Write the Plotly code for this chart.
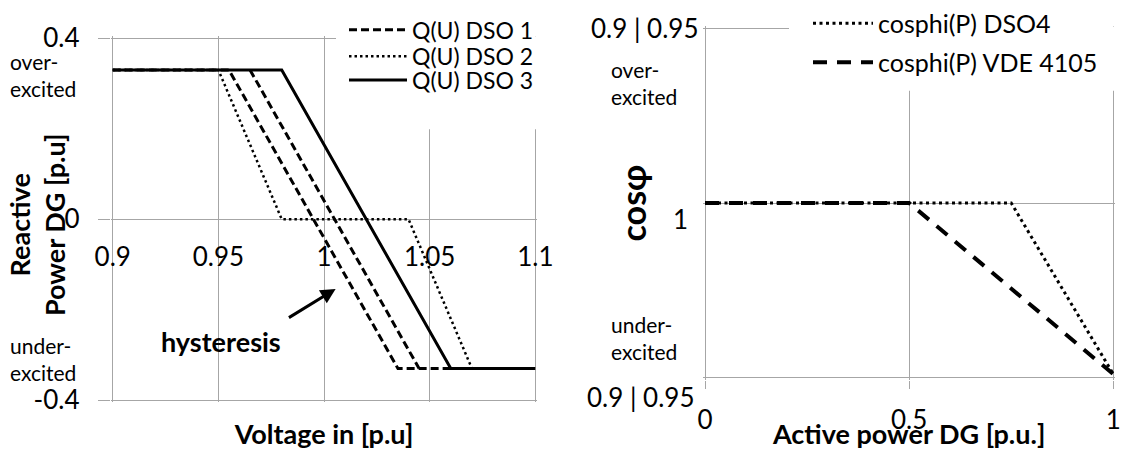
import plotly.graph_objects as go

# ---------------- data ----------------
# Left panel: Q(U) characteristics (voltage in p.u. -> reactive power in p.u.)
u_dso1 = [0.90, 0.955, 1.035, 1.10, None, 0.965, 1.045]
q_dso1 = [0.33, 0.33, -0.33, -0.33, None, 0.33, -0.33]
u_dso2 = [0.90, 0.95, 0.98, 1.04, 1.07, 1.10]
q_dso2 = [0.33, 0.33, 0.0, 0.0, -0.33, -0.33]
u_dso3 = [0.90, 0.98, 1.06, 1.10]
q_dso3 = [0.33, 0.33, -0.33, -0.33]

# Right panel: cosphi(P) characteristics (0 = cosphi 1, +/-1 = 0.9|0.95 over/under-excited)
p_dso4 = [0.0, 0.75, 1.0]
c_dso4 = [0.0, 0.0, -0.98]
p_vde = [0.0, 0.5, 1.0]
c_vde = [0.0, 0.0, -0.98]

left_x_ticks = [0.9, 0.95, 1.0, 1.05, 1.1]
left_x_labels = ["0.9", "0.95", "1", "1.05", "1.1"]
left_y_ticks = [-0.4, 0.0, 0.4]
left_y_labels = ["-0.4", "0", "0.4"]
right_x_ticks = [0.0, 0.5, 1.0]
right_x_labels = ["0", "0.5", "1"]
right_y_ticks = [-1.0, 0.0, 1.0]
right_y_labels = ["0.9 | 0.95", "1", "0.9 | 0.95"]

# ---------------- layout helpers ----------------
W, H = 1121, 450
FONT = "Lato"
GRID = "#a6a6a6"


def fx(p):
    return p / W


def fy(p):
    return 1 - p / H


def span(v0, v1, p0, p1, pad=2.0, vertical=False):
    """domain (paper) and range such that v0 sits at pixel p0 and v1 at p1,
    with a small pad so edge gridlines are still drawn."""
    per_px = (v1 - v0) / abs(p1 - p0)
    rng = [v0 - pad * per_px, v1 + pad * per_px]
    if vertical:  # p0 is bottom pixel, p1 top pixel
        dom = [fy(p0 + pad), fy(p1 - pad)]
    else:
        dom = [fx(p0 - pad), fx(p1 + pad)]
    return dom, rng


L_X0, L_X1, L_Y0, L_Y1 = 112.7, 535.3, 32.7, 399.5
R_X0, R_X1, R_Y0, R_Y1 = 705.0, 1113.3, 22.7, 376.7
zero_pix = (L_Y0 + L_Y1) / 2

lx_dom, lx_rng = span(left_x_ticks[0], left_x_ticks[-1], L_X0, L_X1)
ly_dom, ly_rng = span(left_y_ticks[0], left_y_ticks[-1], L_Y1, L_Y0, vertical=True)
rx_dom, rx_rng = span(right_x_ticks[0], right_x_ticks[-1], R_X0, R_X1)
ry_dom, ry_rng = span(right_y_ticks[0], right_y_ticks[-1], R_Y1, R_Y0, vertical=True)

fig = go.Figure()

fig.add_trace(go.Scatter(x=u_dso1, y=q_dso1, mode="lines", name="Q(U) DSO 1",
                         line=dict(color="black", width=3, dash="8px,4px"),
                         xaxis="x", yaxis="y", legend="legend", showlegend=True))
fig.add_trace(go.Scatter(x=u_dso2, y=q_dso2, mode="lines", name="Q(U) DSO 2",
                         line=dict(color="black", width=2.5, dash="2.5px,3px"),
                         xaxis="x", yaxis="y", legend="legend2", showlegend=True))
fig.add_trace(go.Scatter(x=u_dso3, y=q_dso3, mode="lines", name="Q(U) DSO 3",
                         line=dict(color="black", width=3),
                         xaxis="x", yaxis="y", legend="legend3", showlegend=True))
fig.add_trace(go.Scatter(x=p_dso4, y=c_dso4, mode="lines", name="cosphi(P) DSO4",
                         line=dict(color="black", width=3, dash="3px,3.5px"),
                         xaxis="x2", yaxis="y2", legend="legend4", showlegend=True))
fig.add_trace(go.Scatter(x=p_vde, y=c_vde, mode="lines", name="cosphi(P) VDE 4105",
                         line=dict(color="black", width=4, dash="14px,10px"),
                         xaxis="x2", yaxis="y2", legend="legend5", showlegend=True))

tickfont = dict(family=FONT, size=26, color="black")
titlefont = dict(family=FONT, size=27, color="black", weight="bold")
smallfont = dict(family=FONT, size=21, color="black")

leg_common = dict(bgcolor="rgba(0,0,0,0)", borderwidth=0, xanchor="left",
                  yanchor="middle", tracegroupgap=0)
leg_left = dict(font=dict(family=FONT, size=23, color="black"), itemwidth=58, **leg_common)
leg_right = dict(font=dict(family=FONT, size=25, color="black"), itemwidth=60, **leg_common)

annotations = [
    dict(text="Reactive<br>Power DG [p.u]", textangle=-90, font=titlefont,
         xref="paper", yref="paper", x=fx(37), y=fy(222), showarrow=False,
         xanchor="center", yanchor="middle"),
    dict(text="over-<br>excited", font=smallfont,
         xref="paper", yref="paper", x=fx(8), y=fy(70), showarrow=False,
         xanchor="left", yanchor="middle", align="left"),
    dict(text="under-<br>excited", font=smallfont,
         xref="paper", yref="paper", x=fx(8), y=fy(358), showarrow=False,
         xanchor="left", yanchor="middle", align="left"),
    dict(text="over-<br>excited", font=smallfont,
         xref="paper", yref="paper", x=fx(609), y=fy(78), showarrow=False,
         xanchor="left", yanchor="middle", align="left"),
    dict(text="under-<br>excited", font=smallfont,
         xref="paper", yref="paper", x=fx(609), y=fy(336), showarrow=False,
         xanchor="left", yanchor="middle", align="left"),
    dict(text="hysteresis", font=titlefont, xref="paper", yref="paper",
         x=fx(221), y=fy(340), showarrow=False, xanchor="center", yanchor="middle"),
    dict(text="", xref="x", yref="y", x=1.0055, y=-0.154, axref="x", ayref="y",
         ax=0.9827, ay=-0.2195, showarrow=True, arrowhead=2, arrowsize=1,
         arrowwidth=3, arrowcolor="black"),
    # right panel y tick texts
    dict(text=right_y_labels[2], font=tickfont, xref="x2", yref="y2",
         x=right_x_ticks[0], y=right_y_ticks[2], xanchor="right", yanchor="middle",
         xshift=-4, showarrow=False),
    dict(text=right_y_labels[1], font=tickfont, xref="x2", yref="y2",
         x=right_x_ticks[0], y=right_y_ticks[1], xanchor="center", yanchor="middle",
         xshift=-25, yshift=-16, showarrow=False),
    dict(text=right_y_labels[0], font=tickfont, xref="x2", yref="y2",
         x=right_x_ticks[0], y=right_y_ticks[0], xanchor="right", yanchor="middle",
         xshift=-8, yshift=-19, showarrow=False),
]

# white boxes behind the legends that hide the grid lines there (as in the original)
lx_per_px = (left_x_ticks[-1] - left_x_ticks[0]) / (L_X1 - L_X0)
ly_per_px = (left_y_ticks[-1] - left_y_ticks[0]) / (L_Y1 - L_Y0)
rx_per_px = (right_x_ticks[-1] - right_x_ticks[0]) / (R_X1 - R_X0)
ry_per_px = (right_y_ticks[-1] - right_y_ticks[0]) / (R_Y1 - R_Y0)
shapes = [
    dict(type="rect", xref="x", yref="y",
         x0=left_x_ticks[0] + (336 - L_X0) * lx_per_px, x1=lx_rng[1] + 0.01,
         y0=(zero_pix - 125) * ly_per_px, y1=ly_rng[1] + 0.05,
         fillcolor="white", line=dict(width=0), layer="between"),
    dict(type="rect", xref="x2", yref="y2",
         x0=right_x_ticks[0] + (789 - R_X0) * rx_per_px, x1=rx_rng[1] + 0.05,
         y0=right_y_ticks[-1] - (86 - R_Y0) * ry_per_px, y1=ry_rng[1] + 0.05,
         fillcolor="white", line=dict(width=0), layer="between"),
]

fig.update_layout(
    width=W, height=H,
    margin=dict(l=0, r=0, t=0, b=0),
    showlegend=True,
    paper_bgcolor="white", plot_bgcolor="white",
    font=dict(family=FONT, color="black"),
    xaxis=dict(domain=lx_dom, range=lx_rng,
               tickvals=left_x_ticks, ticktext=left_x_labels,
               showgrid=True, gridcolor=GRID, gridwidth=1, zeroline=False,
               showline=False, ticks="", anchor="free", position=fy(zero_pix),
               tickfont=tickfont, ticklabelstandoff=20, automargin=False,
               title=dict(text="Voltage in [p.u]", font=titlefont, standoff=156)),
    yaxis=dict(domain=ly_dom, range=ly_rng,
               tickvals=left_y_ticks, ticktext=left_y_labels,
               showgrid=True, gridcolor=GRID, gridwidth=1, zeroline=False,
               showline=False, ticks="outside", ticklen=12, tickcolor=GRID,
               tickwidth=1, anchor="x", tickfont=tickfont, ticklabelstandoff=13,
               automargin=False),
    xaxis2=dict(domain=rx_dom, range=rx_rng,
                tickvals=right_x_ticks, ticktext=right_x_labels,
                showgrid=True, gridcolor=GRID, gridwidth=1, zeroline=False,
                showline=False, ticks="outside", ticklen=8, tickcolor=GRID,
                tickwidth=1, anchor="y2", tickfont=tickfont, ticklabelstandoff=9,
                automargin=False,
                title=dict(text="Active power DG [p.u.]", font=titlefont, standoff=11)),
    yaxis2=dict(domain=ry_dom, range=ry_rng,
                tickvals=right_y_ticks, showticklabels=False,
                showgrid=True, gridcolor=GRID, gridwidth=1, zeroline=False,
                showline=False, ticks="", anchor="x2", automargin=False,
                title=dict(text="cosφ", font=dict(family=FONT, size=34, color="black",
                                                  weight="bold"), standoff=45)),
    legend=dict(x=fx(344), y=fy(24), **leg_left),
    legend2=dict(x=fx(344), y=fy(51), **leg_left),
    legend3=dict(x=fx(344), y=fy(75), **leg_left),
    legend4=dict(x=fx(808), y=fy(17.7), **leg_right),
    legend5=dict(x=fx(808), y=fy(57.3), **leg_right),
    annotations=annotations,
    shapes=shapes,
)

fig.write_html("out.html", config={"displayModeBar": False},
               post_script="document.body.style.margin='0';")
